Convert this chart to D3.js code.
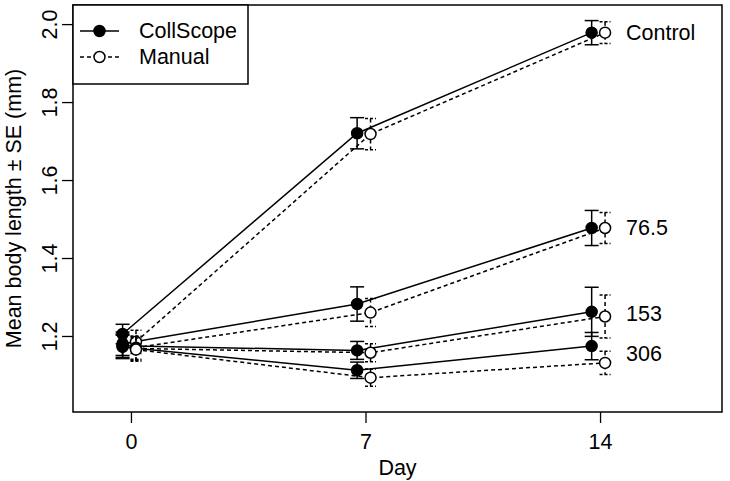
<!DOCTYPE html>
<html><head><meta charset="utf-8">
<script src="https://cdn.jsdelivr.net/npm/d3@7"></script>
<style>body{margin:0;background:#fff}svg{display:block}text{font-family:"Liberation Sans",Arial,sans-serif;fill:#000}</style>
</head><body>
<script>
const days = [0, 7, 14];
const groups = ["Control", "76.5", "153", "306"];
const collscopeMean = [[1.205,1.720,1.978],[1.180,1.282,1.477],[1.175,1.163,1.262],[1.172,1.112,1.174]];
const collscopeSE   = [[0.025,0.040,0.031],[0.030,0.044,0.045],[0.030,0.023,0.063],[0.030,0.021,0.035]];
const manualMean    = [[1.185,1.718,1.978],[1.170,1.260,1.477],[1.168,1.157,1.250],[1.165,1.093,1.131]];
const manualSE      = [[0.030,0.040,0.028],[0.030,0.036,0.040],[0.030,0.023,0.055],[0.030,0.022,0.030]];
const yTicks = [1.2, 1.4, 1.6, 1.8, 2.0];
const seriesNames = ["CollScope", "Manual"];

const W = 730, H = 481;
const box = {l: 73, r: 722, t: 5, b: 412};
const x = d3.scaleLinear().domain([-1.73, 17.64]).range([box.l, box.r]);
const y = d3.scaleLinear().domain([1.005, 2.049]).range([box.b, box.t]);
const svg = d3.select("body").append("svg").attr("width", W).attr("height", H);
const FS = 21.5;

// axes
const gx = svg.append("g").attr("transform", `translate(0,${box.b})`)
  .call(d3.axisBottom(x).tickValues(days).tickSize(11).tickPadding(11).tickFormat(d3.format("d")));
const gy = svg.append("g").attr("transform", `translate(${box.l},0)`)
  .call(d3.axisLeft(y).tickValues(yTicks).tickSize(11).tickFormat(d3.format(".1f")));
[gx, gy].forEach(g => { g.select(".domain").remove(); g.selectAll("line").attr("stroke", "#000").attr("stroke-width", 1.3); g.selectAll("text").style("font-size", FS + "px").attr("font-family", "Liberation Sans, Arial, sans-serif"); });
gy.selectAll(".tick text").attr("text-anchor", "middle").attr("x", 0).attr("dy", 0)
  .attr("transform", "translate(-23,0) rotate(-90)").attr("dominant-baseline", "central");

svg.append("rect").attr("x", box.l).attr("y", box.t).attr("width", box.r - box.l).attr("height", box.b - box.t)
  .attr("fill", "none").attr("stroke", "#000").attr("stroke-width", 1.5);

svg.append("text").attr("x", (box.l + box.r) / 2).attr("y", 475).attr("text-anchor", "middle")
  .style("font-size", FS + "px").text("Day");
svg.append("text").attr("transform", `translate(21,${(box.t + box.b) / 2}) rotate(-90)`).attr("text-anchor", "middle")
  .style("font-size", FS + "px").text("Mean body length ± SE (mm)");

const series = [
  {mean: collscopeMean, se: collscopeSE, off: -0.25, dash: null, fill: "#000", cap: 7},
  {mean: manualMean, se: manualSE, off: 0.15, dash: "4,3", fill: "#fff", cap: 5.5}
];
const line = d3.line().x(d => x(d[0])).y(d => y(d[1]));
series.forEach(s => {
  const g = svg.append("g");
  s.mean.forEach((m, gi) => {
    const pts = days.map((d, i) => [d + s.off, m[i], s.se[gi][i]]);
    g.append("path").attr("d", line(pts)).attr("fill", "none").attr("stroke", "#000").attr("stroke-width", 1.5)
      .attr("stroke-dasharray", s.dash);
    pts.forEach(p => {
      const px = x(p[0]), y1 = y(p[1] + p[2]), y0 = y(p[1] - p[2]);
      g.append("line").attr("x1", px).attr("x2", px).attr("y1", y1).attr("y2", y0).attr("stroke", "#000").attr("stroke-width", 1.5).attr("stroke-dasharray", s.dash);
      [y1, y0].forEach(yy => g.append("line").attr("x1", px - s.cap).attr("x2", px + s.cap).attr("y1", yy).attr("y2", yy).attr("stroke", "#000").attr("stroke-width", 1.5).attr("stroke-dasharray", s.dash ? "3,2" : null));
    });
    pts.forEach(p => g.append("circle").attr("cx", x(p[0])).attr("cy", y(p[1])).attr("r", 5.5).attr("fill", s.fill).attr("stroke", "#000").attr("stroke-width", 1.5));
  });
});

// group labels
groups.forEach((gname, gi) => {
  const v = (collscopeMean[gi][2] + manualMean[gi][2]) / 2;
  svg.append("text").attr("x", x(14) + 26).attr("y", y(v)).attr("dominant-baseline", "central")
    .style("font-size", FS + "px").text(gname);
});

// legend
const lg = svg.append("g");
lg.append("rect").attr("x", box.l).attr("y", box.t).attr("width", 175).attr("height", 79).attr("fill", "#fff").attr("stroke", "#000").attr("stroke-width", 1.5);
seriesNames.forEach((n, i) => {
  const yy = 31 + i * 26, s = series[i];
  lg.append("line").attr("x1", 80).attr("x2", 119).attr("y1", yy).attr("y2", yy).attr("stroke", "#000").attr("stroke-width", 1.5).attr("stroke-dasharray", s.dash);
  lg.append("circle").attr("cx", 99.5).attr("cy", yy).attr("r", 5.5).attr("fill", s.fill).attr("stroke", "#000").attr("stroke-width", 1.5);
  lg.append("text").attr("x", 139).attr("y", yy).attr("dominant-baseline", "central").style("font-size", FS + "px").text(n);
});
</script>
</body></html>
